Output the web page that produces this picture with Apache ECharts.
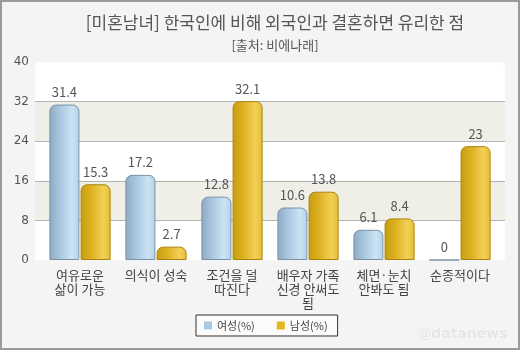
<!DOCTYPE html>
<html><head><meta charset="utf-8">
<script src="https://cdn.jsdelivr.net/npm/echarts@6/dist/echarts.min.js"></script>
<style>html,body{margin:0;padding:0;background:#f4f4f4}#c{width:520px;height:350px}</style>
</head><body><div id="c"></div>
<script>
const categories = ['여유로운\n삶이 가능', '의식이 성숙', '조건을 덜\n따진다', '배우자 가족\n신경 안써도\n됨', '체면·눈치\n안봐도 됨', '순종적이다'];
const women = [31.4, 17.2, 12.8, 10.6, 6.1, 0];
const men = [15.3, 2.7, 32.1, 13.8, 8.4, 23];
const seriesNames = ['여성(%)', '남성(%)'];
const yTicks = {min: 0, max: 40, interval: 8};

const font = '"Noto Sans CJK KR", "Noto Sans", sans-serif';
const chart = echarts.init(document.getElementById('c'));
const blueGrad = new echarts.graphic.LinearGradient(0,0,1,0,[
  {offset:0,color:'#8eaac2'},{offset:0.35,color:'#a9c7df'},{offset:0.75,color:'#cbe3f3'},{offset:1,color:'#b5d2e8'}]);
const goldGrad = new echarts.graphic.LinearGradient(0,0,1,0,[
  {offset:0,color:'#c79c12'},{offset:0.35,color:'#ddb020'},{offset:0.75,color:'#f2cf55'},{offset:1,color:'#e6bd35'}]);
const lbl = {show:true, position:'top', distance:6, color:'#555', fontSize:13, fontFamily:font};
chart.setOption({
  backgroundColor:'#f4f4f4',
  animation:false,
  title:[
    {text:'[미혼남녀] 한국인에 비해 외국인과 결혼하면 유리한 점', left:270, textAlign:'center', top:9,
     textStyle:{fontSize:17, fontWeight:'normal', color:'#555', fontFamily:font}},
    {text:'[출처: 비에나래]', left:270, textAlign:'center', top:34,
     textStyle:{fontSize:13, fontWeight:'normal', color:'#555', fontFamily:font}}
  ],
  graphic:[
    {type:'rect', shape:{x:1,y:1,width:518,height:348}, style:{fill:'none', stroke:'#9a9a9a', lineWidth:2}, silent:true, z:100},
    {type:'rect', shape:{x:35,y:62,width:470,height:198,r:[5,5,0,0]}, style:{fill:'#ffffff'}, silent:true, z:-10},
    {type:'text', right:12, bottom:8, style:{text:'@datanews', fill:'#e6e6e6', stroke:'#fafafa', lineWidth:1, fontSize:14, fontFamily:'Verdana, "DejaVu Sans", sans-serif', fontWeight:'bold'}, silent:true, z:50}
  ],
  legend:{data:[
      {name:seriesNames[0], itemStyle:{color:'#a9cbe6', borderWidth:0}},
      {name:seriesNames[1], itemStyle:{color:'#e2b71f', borderWidth:0}}],
    left:196, top:315, itemWidth:8, itemHeight:8, itemGap:22, icon:'rect',
    padding:[5,10,5,8], borderColor:'#333', borderWidth:1, backgroundColor:'#fbfbfb', borderRadius:0,
    textStyle:{fontSize:11, color:'#444', fontFamily:font}},
  grid:[
    {left:35, right:15, top:62, bottom:90},
    {left:42, right:22, top:62, bottom:90}
  ],
  xAxis:[
    {gridIndex:0, type:'category', data:categories, show:false},
    {gridIndex:1, type:'category', data:categories, axisLine:{show:false}, axisTick:{show:false},
     axisLabel:{interval:0, color:'#444', fontSize:13, fontFamily:font, lineHeight:14, margin:8}}
  ],
  yAxis:[
    {gridIndex:0, type:'value', min:yTicks.min, max:yTicks.max, interval:yTicks.interval,
     axisLine:{show:false}, axisTick:{show:false},
     axisLabel:{color:'#555', fontSize:12, fontFamily:'"DejaVu Sans", sans-serif', margin:6},
     splitLine:{show:true, showMinLine:false, showMaxLine:false, lineStyle:{color:'#b4b4b4', width:1}},
     splitArea:{show:true, areaStyle:{color:['rgba(255,255,255,0)','#efefe8']}}},
    {gridIndex:1, type:'value', min:yTicks.min, max:yTicks.max, interval:yTicks.interval, show:false, splitLine:{show:false}}
  ],
  series:[
    {name:seriesNames[0], type:'bar', xAxisIndex:1, yAxisIndex:1, data:women, barWidth:30, barGap:'4%',
     itemStyle:{color:blueGrad, borderColor:'#7892a8', borderWidth:1, borderRadius:[6,6,0,0]}, label:lbl},
    {name:seriesNames[1], type:'bar', xAxisIndex:1, yAxisIndex:1, data:men, barWidth:30, barGap:'4%',
     itemStyle:{color:goldGrad, borderColor:'#a8840e', borderWidth:1, borderRadius:[6,6,0,0]}, label:lbl}
  ]
});
</script></body></html>
